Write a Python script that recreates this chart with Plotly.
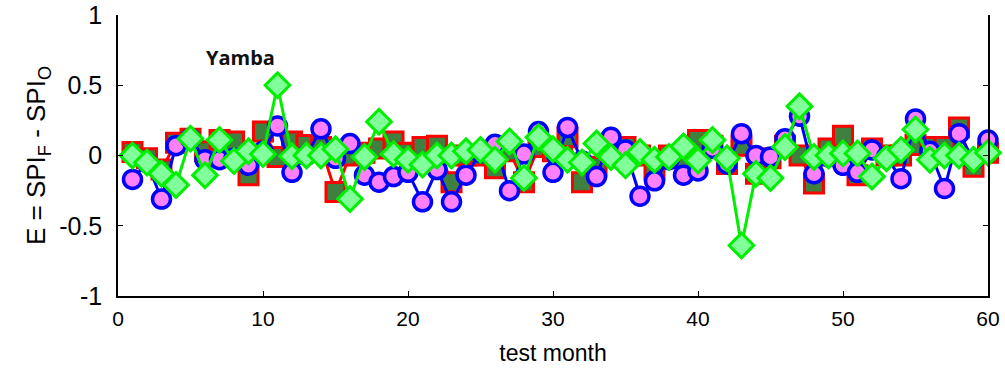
import plotly.graph_objects as go

months = list(range(1, 61))

# red squares (dark green fill)
sq = [0.025, -0.02, -0.10, 0.09, 0.12, 0.03, 0.11, 0.10, -0.14, 0.17,
      -0.01, 0.10, 0.075, 0.06, -0.26, 0.0, 0.02, 0.05, 0.10, 0.02,
      0.06, 0.07, -0.19, 0.0, 0.0, -0.09, 0.03, -0.19, 0.06, 0.03,
      0.13, -0.19, -0.08, 0.02, 0.06, 0.0, -0.10, 0.0, -0.02, 0.11,
      0.07, -0.06, 0.07, -0.13, -0.02, 0.07, 0.0, -0.20, 0.05, 0.14,
      -0.14, 0.05, 0.0, 0.0, 0.075, 0.06, 0.06, 0.20, -0.08, 0.02]

# blue circles (magenta fill)
ci = [-0.17, -0.05, -0.31, 0.07, 0.12, -0.03, -0.03, -0.02, -0.07, 0.03,
      0.21, -0.12, 0.0, 0.19, -0.02, 0.085, -0.14, -0.19, -0.15, -0.12,
      -0.33, -0.10, -0.33, -0.14, 0.02, 0.08, -0.25, 0.01, 0.17, -0.12,
      0.20, -0.04, -0.15, 0.13, 0.04, -0.29, -0.18, -0.03, -0.14, -0.11,
      0.05, -0.06, 0.155, 0.0, -0.01, 0.12, 0.28, -0.13, -0.01, -0.07,
      -0.12, 0.04, -0.01, -0.165, 0.26, 0.03, -0.235, 0.155, -0.03, 0.11]

# green diamonds
di = [0.0, -0.05, -0.13, -0.21, 0.12, -0.14, 0.11, -0.04, 0.03, 0.01,
      0.50, -0.005, 0.0, 0.0, 0.045, -0.31, -0.01, 0.24, 0.01, -0.03,
      -0.065, 0.0, 0.0, 0.03, 0.04, -0.03, 0.10, -0.16, 0.13, 0.045,
      -0.03, -0.05, 0.085, -0.01, -0.07, 0.025, -0.03, -0.01, 0.065, -0.035,
      0.11, -0.02, -0.64, -0.13, -0.16, 0.06, 0.35, -0.01, 0.0, 0.015,
      0.015, -0.15, -0.02, 0.04, 0.185, -0.03, 0.0, 0.0, -0.03, 0.02]

x_ticks = [0, 10, 20, 30, 40, 50, 60]
y_ticks = [-1, -0.5, 0, 0.5, 1]
y_tick_text = ["-1", "-0.5", "0", "0.5", "1"]

fig = go.Figure()
fig.add_trace(go.Scatter(
    x=months, y=sq, mode="lines+markers",
    line=dict(color="#ff0000", width=3),
    marker=dict(symbol="square", size=19, color="#3f7f3f",
                line=dict(color="#ff0000", width=3)),
    showlegend=False, cliponaxis=False))
fig.add_trace(go.Scatter(
    x=months, y=ci, mode="lines+markers",
    line=dict(color="#0000ff", width=3),
    marker=dict(symbol="circle", size=18, color="#ff80ff",
                line=dict(color="#0000ff", width=3.5)),
    showlegend=False, cliponaxis=False))
fig.add_trace(go.Scatter(
    x=months, y=di, mode="lines+markers",
    line=dict(color="#00ee00", width=3),
    marker=dict(symbol="diamond", size=19, color="#80ff9a",
                line=dict(color="#00ee00", width=3)),
    showlegend=False, cliponaxis=False))

fig.add_annotation(x=8.45, y=0.70, text="<b>Yamba</b>", showarrow=False,
                   font=dict(family="Open Sans", size=20, color="#111111"))

fig.update_layout(
    width=1005, height=372,
    margin=dict(l=117.5, r=17.3, t=14.6, b=76),
    paper_bgcolor="white", plot_bgcolor="white",
    font=dict(family="Liberation Sans", size=20, color="black"),
)
fig.update_xaxes(
    range=[0, 60], tickvals=x_ticks, ticks="inside", ticklen=5,
    tickcolor="black", showline=True, linecolor="black", linewidth=1.5,
    showgrid=False, zeroline=False, ticklabelstandoff=3, automargin=False,
    title=dict(text="test month", font=dict(size=23), standoff=16),
    tickfont=dict(size=21))
fig.update_yaxes(
    range=[-1, 1], tickvals=y_ticks, ticktext=y_tick_text, ticks="inside",
    ticklen=5, tickcolor="black", showline=True, linecolor="black",
    linewidth=1.5, mirror="ticks", showgrid=False, zeroline=False,
    ticklabelstandoff=9, automargin=False,
    title=dict(text="E = SPI<sub>F</sub> - SPI<sub>O</sub>", font=dict(size=26), standoff=6),
    tickfont=dict(size=25))

fig.write_html("out.html")
